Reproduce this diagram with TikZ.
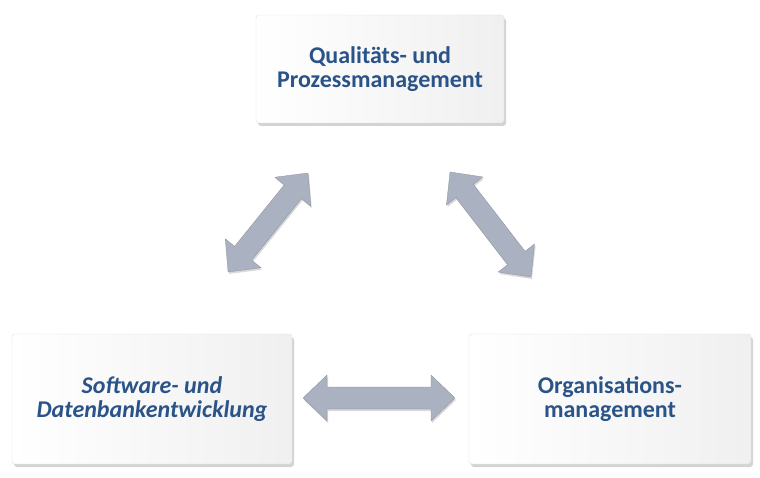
\documentclass[tikz,border=0pt]{standalone}
\usepackage{fontspec}
\setmainfont{Carlito}
\usetikzlibrary{shadows}
\begin{document}
\begin{tikzpicture}[x=1pt,y=-1pt,
  box/.style={draw=gray!25,rounded corners=3pt,left color=white,right color=gray!12,
    drop shadow={shadow xshift=2pt,shadow yshift=-3pt,opacity=0.35},
    align=center,font=\fontsize{24}{24}\selectfont\bfseries,text=lbl},
  dar/.style={fill=arr,draw=arr!80!black,line width=0.3pt,
    drop shadow={shadow xshift=1pt,shadow yshift=-2pt,opacity=0.3}}]
\definecolor{lbl}{HTML}{2A5388}
\definecolor{arr}{HTML}{AAB1C0}
\useasboundingbox (0,0) rectangle (760,478);
\node[box,minimum width=248pt,minimum height=108pt] (q) at (380,69) {Qualitäts- und\\Prozessmanagement};
\node[box,minimum width=280pt,minimum height=130pt,font=\fontsize{24}{24}\selectfont\bfseries\itshape] (s) at (152,399) {Software- und\\Datenbankentwicklung};
\node[box,minimum width=282pt,minimum height=130pt] (o) at (610,399) {Organisations-\\management};
\foreach \ax/\ay/\bx/\by/\nm in {308/173/228/272/la, 450/172/531/277/ra, 303/398/455/398/ba}{
  \coordinate (\nm1) at (\ax,\ay);
  \coordinate (\nm2) at (\bx,\by);
  \pgfmathsetmacro{\L}{veclen(\bx-\ax,\by-\ay)}
  \pgfmathsetmacro{\ang}{-atan2(\by-\ay,\bx-\ax)}
  \begin{scope}[shift={(\nm1)},rotate=\ang]
    \path[dar] (0,0) -- (24,-23) -- (24,-11) -- (\L-24,-11) -- (\L-24,-23) -- (\L,0)
      -- (\L-24,23) -- (\L-24,11) -- (24,11) -- (24,23) -- cycle;
  \end{scope}
}
\end{tikzpicture}
\end{document}
